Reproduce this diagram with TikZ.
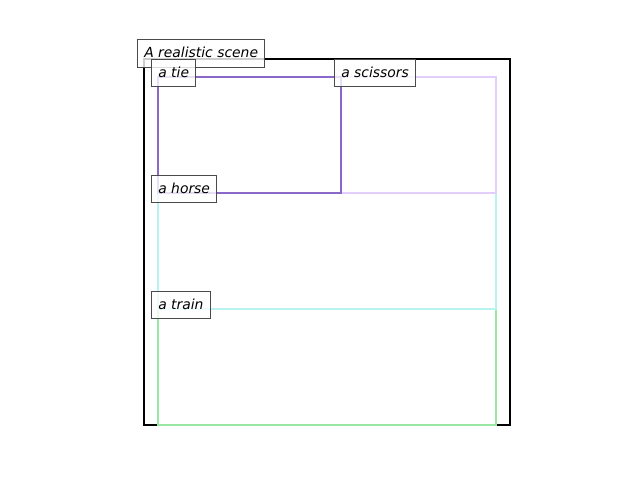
\documentclass[tikz,border=0pt]{standalone}
\usepackage{fontspec}
\newfontfamily\labfont{DejaVu Sans}
\definecolor{tiec}{HTML}{8B67C9}
\definecolor{scic}{HTML}{E2CDFB}
\definecolor{horc}{HTML}{B8F3F3}
\definecolor{trac}{HTML}{98E6A2}
\definecolor{edgec}{HTML}{4A4A4A}
\begin{document}
\begin{tikzpicture}[x=0.72pt,y=-0.72pt,
  lbl/.style={draw=edgec, line width=0.7pt, fill=white, fill opacity=0.8, text opacity=1,
    font=\labfont\itshape\fontsize{10}{12}\selectfont, inner xsep=4.9pt, inner ysep=0pt,
    minimum height=20pt, text height=7.6pt, text depth=1.4pt, anchor=west},
  bx/.style={line width=1.55pt}]
\useasboundingbox (0,0) rectangle (640,480);
\draw[bx, black] (144,59) rectangle (510,425);
\draw[bx, trac] (158,309) rectangle (496,425);
\draw[bx, horc] (158,193) rectangle (496,309);
\draw[bx, scic] (341,77) rectangle (496,193);
\draw[bx, tiec] (158,77) rectangle (341,193);
\node[lbl] (scene) at (137,53.5) {A realistic scene};
\node[lbl] (tie) at (151,73) {a tie};
\node[lbl] (scissors) at (334,73) {a scissors};
\node[lbl] (horse) at (151,189) {a horse};
\node[lbl] (train) at (151,305) {a train};
\end{tikzpicture}
\end{document}
